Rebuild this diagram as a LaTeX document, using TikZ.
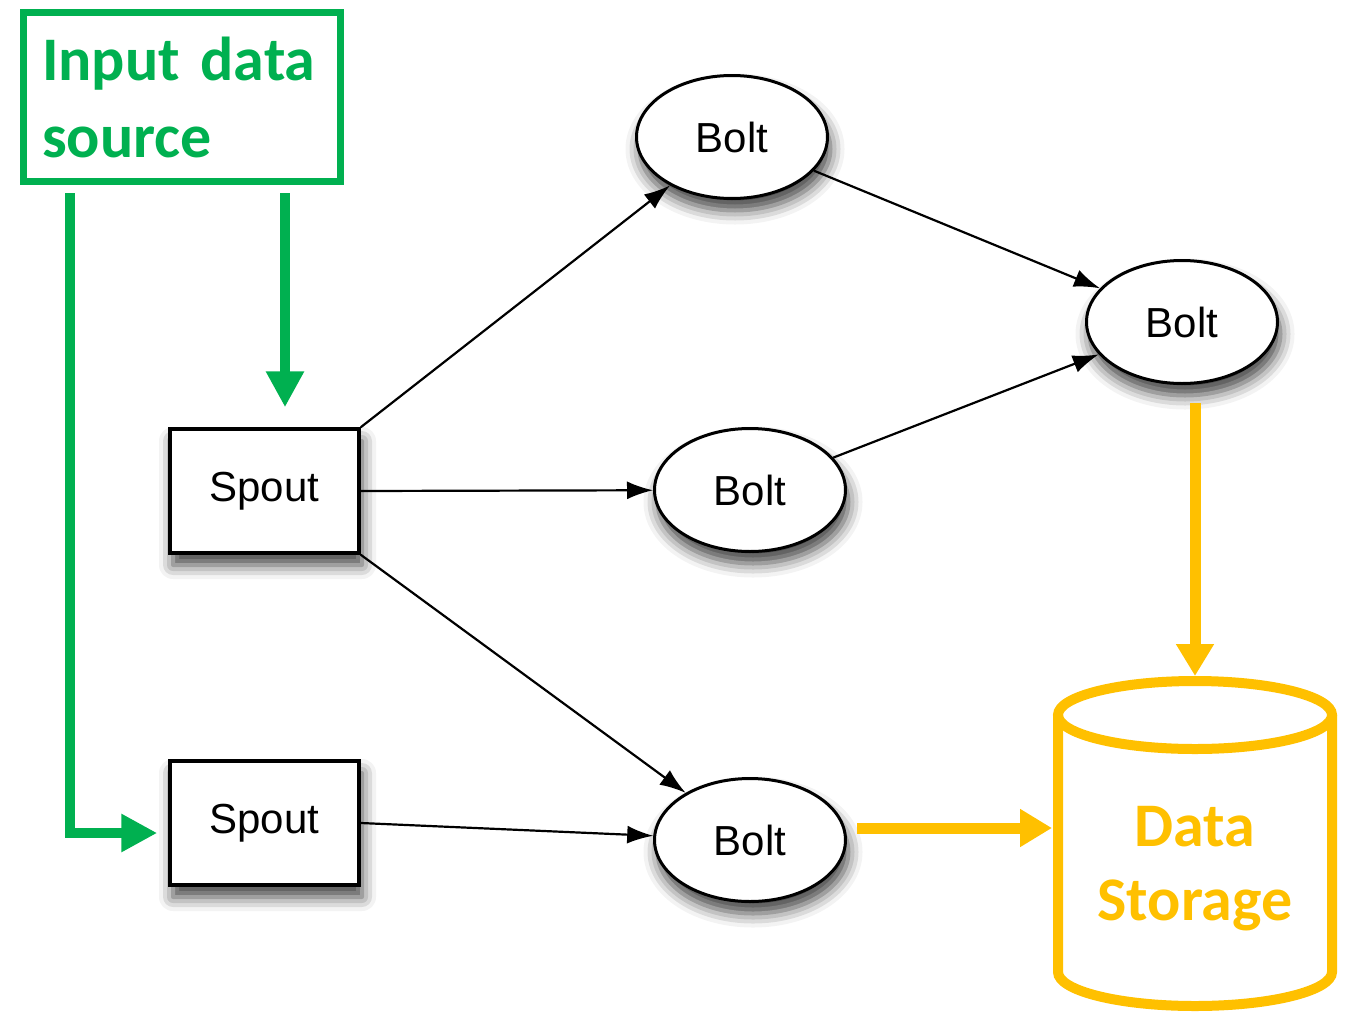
\documentclass[tikz,border=0pt]{standalone}
\usepackage{fontspec}
\setmainfont{Liberation Sans}
\newfontfamily\calibri{Carlito}
\usetikzlibrary{shapes.geometric,arrows.meta,shadows.blur}
\definecolor{srcgreen}{HTML}{00B050}
\definecolor{dbgold}{HTML}{FFC000}

\begin{document}
\begin{tikzpicture}[x=1pt,y=-1pt,
  spout/.style={rectangle, draw, line width=3.5pt, fill=white, minimum width=189pt, minimum height=124pt, inner sep=0pt, font=\fontsize{42}{50}\selectfont, blur shadow={shadow xshift=3pt, shadow yshift=-12pt, shadow blur radius=14pt, shadow opacity=75}},
  bolt/.style={ellipse, draw, line width=3pt, fill=white, minimum width=191pt, minimum height=123pt, inner sep=0pt, font=\fontsize{42}{50}\selectfont, blur shadow={shadow xshift=3pt, shadow yshift=-12pt, shadow blur radius=14pt, shadow opacity=75}},
  srcbox/.style={rectangle, draw=srcgreen, line width=7pt, minimum width=317pt, minimum height=169pt, text width=280pt, align=left, inner sep=0pt, text=srcgreen, font=\calibri\bfseries\fontsize{62}{77}\selectfont},
  dbtext/.style={align=center, inner sep=0pt, text=dbgold, font=\calibri\bfseries\fontsize{62}{74}\selectfont},
  flow/.style={line width=2.2pt, -{Latex[length=26pt,width=18pt]}},
  feed/.style={srcgreen, line width=10pt, -{Triangle[length=36pt,width=36pt]}},
  store/.style={dbgold, line width=11pt, -{Triangle[length=32pt,width=36pt]}},
  cyl/.style={dbgold, line width=10pt}]
\useasboundingbox (0,0) rectangle (1350,1015);

\node[srcbox] (src) at (182,97) {Input data\\source};
\node[spout] (spt0) at (264.5,491) {Spout};
\node[spout] (spt1) at (264.5,823) {Spout};
\node[bolt] (blt0) at (732,137) {Bolt};
\node[bolt] (blt1) at (1182,322) {Bolt};
\node[bolt] (blt2) at (750,490) {Bolt};
\node[bolt] (blt3) at (750,840) {Bolt};

\draw[cyl] (1195,715) ellipse [x radius=137pt, y radius=34pt];
\draw[cyl] (1058,715) -- (1058,972) arc[start angle=180, end angle=360, x radius=137pt, y radius=34pt] -- (1332,715);
\node[dbtext] (db) at (1195,869) {Data\\Storage};
\coordinate (dbtop) at (1195,676);
\coordinate (dbside) at (1052,828);

\draw[feed] ([xshift=103pt,yshift=-8pt]src.south) -- ([xshift=20.5pt,yshift=20pt]spt0.north);
\draw[feed] ([xshift=-112pt,yshift=-8pt]src.south) |- ([xshift=-11pt,yshift=-10pt]spt1.west);

\draw[flow] (spt0.north east) -- (blt0);
\draw[flow] (spt0.east) -- (blt2);
\draw[flow] (spt0.south east) -- (blt3);
\draw[flow] (spt1.east) -- (blt3);
\draw[flow] (blt0) -- (blt1);
\draw[flow] (blt2) -- (blt1);

\draw[store] ([xshift=13pt,yshift=-18pt]blt1.south) -- (dbtop);
\draw[store] ([xshift=10pt,yshift=12pt]blt3.east) -- (dbside);
\end{tikzpicture}
\end{document}
